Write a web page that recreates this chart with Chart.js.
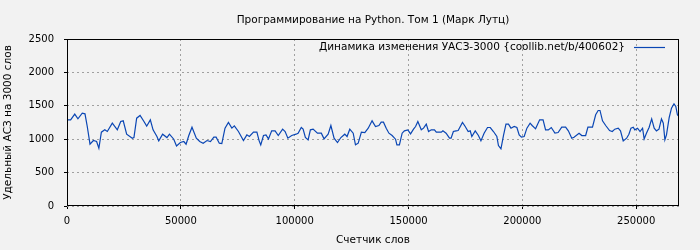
<!DOCTYPE html>
<html>
<head>
<meta charset="utf-8">
<script src="https://cdn.jsdelivr.net/npm/chart.js@4"></script>
<style>
    html, body { margin: 0; padding: 0; background: #f2f2f2; }
    #wrap { width: 700px; height: 250px; }
</style>
</head>
<body>
<div id="wrap"><canvas id="c"></canvas></div>
<script>
const chartTitle = 'Программирование на Python. Том 1 (Марк Лутц)';
const seriesLabel = 'Динамика изменения УАСЗ-3000 {coollib.net/b/400602}';
const xTitle = 'Счетчик слов';
const yTitle = 'Удельный АСЗ на 3000 слов';

const xTicks = [0, 50000, 100000, 150000, 200000, 250000];
const yTicks = [0, 500, 1000, 1500, 2000, 2500];

// счетчик слов
const wordCounts = [
    0, 1600, 3400, 4800, 6700, 7900, 8900, 10100, 11600, 13000,
    14000, 15100, 16600, 17700, 19900, 22100, 23600, 24700, 26200, 28700,
    29400, 30600, 32100, 33800, 35000, 36600, 37800, 39500, 40300, 42000,
    43900, 45000, 46900, 48100, 49800, 51300, 52300, 53500, 54900, 56800,
    58300, 59800, 61500, 63000, 64500, 65500, 66900, 68000, 69400, 70900,
    72400, 73500, 75300, 77500, 79000, 80100, 81900, 83400, 84400, 85100,
    86300, 87400, 88500, 89900, 91400, 92800, 94700, 95800, 97000, 98700,
    100600, 101500, 102900, 103700, 104700, 105900, 106900, 108100, 110000, 111700,
    112900, 114700, 115900, 117300, 118800, 120300, 122000, 123000, 124200, 125700,
    126700, 127900, 129300, 130800, 132300, 134000, 135500, 137000, 138000, 139000,
    140200, 141400, 142800, 144300, 144900, 146000, 147200, 148200, 149700, 150900,
    152200, 153100, 154100, 155600, 156600, 157800, 158800, 160000, 161400, 162200,
    164400, 165100, 166500, 168000, 168700, 169700, 170900, 171800, 173700, 174900,
    176200, 177100, 177800, 179300, 180700, 181800, 183200, 184700, 185900, 187300,
    188800, 189500, 190600, 191700, 192800, 193900, 195000, 196400, 197600, 198600,
    199600, 200800, 202000, 203400, 204300, 205800, 207600, 209100, 210200, 211400,
    212700, 214300, 215700, 217300, 219000, 220200, 221700, 222700, 224900, 226100,
    227800, 228800, 230800, 232200, 233300, 234100, 235200, 236600, 238300, 239500,
    240600, 242100, 243100, 244300, 245800, 246800, 247700, 248700, 249400, 250600,
    251700, 252800, 253500, 254500, 255700, 256800, 257900, 258900, 260000, 261100,
    261900, 262600, 263300, 264500, 265500, 266600, 267400, 268100, 268800
];

// УАСЗ-3000
const uasValues = [
    1290, 1290, 1375, 1305, 1390, 1380, 1190, 925, 980, 965,
    865, 1105, 1140, 1115, 1240, 1140, 1265, 1275, 1075, 1015,
    1025, 1315, 1355, 1265, 1195, 1290, 1140, 1040, 975, 1075,
    1025, 1075, 1000, 900, 950, 965, 925, 1055, 1180, 1015,
    965, 940, 980, 965, 1030, 1030, 940, 935, 1165, 1250,
    1165, 1200, 1115, 980, 1065, 1040, 1105, 1105, 975, 915,
    1055, 1065, 1005, 1125, 1125, 1055, 1150, 1115, 1015, 1055,
    1075, 1090, 1175, 1150, 1025, 990, 1140, 1150, 1090, 1090,
    1005, 1075, 1205, 1015, 950, 1025, 1075, 1040, 1150, 1090,
    915, 940, 1105, 1100, 1165, 1275, 1190, 1205, 1255, 1255,
    1165, 1090, 1055, 1000, 915, 915, 1090, 1125, 1140, 1080,
    1150, 1190, 1265, 1140, 1165, 1225, 1115, 1140, 1140, 1105,
    1105, 1125, 1090, 1015, 1015, 1115, 1125, 1130, 1250, 1190,
    1115, 1125, 1040, 1125, 1055, 975, 1090, 1175, 1175, 1115,
    1040, 905, 855, 1055, 1225, 1225, 1165, 1190, 1175, 1065,
    1030, 1040, 1165, 1240, 1205, 1155, 1290, 1290, 1140, 1140,
    1175, 1090, 1100, 1180, 1180, 1125, 1015, 1030, 1090, 1055,
    1055, 1180, 1180, 1365, 1430, 1430, 1275, 1205, 1130, 1115,
    1150, 1165, 1125, 975, 1015, 1075, 1165, 1180, 1140, 1165,
    1115, 1165, 1005, 1090, 1180, 1305, 1165, 1125, 1150, 1305,
    1240, 990, 1065, 1325, 1465, 1530, 1490, 1365, 1340
];

const FONT = 'DejaVu Sans';
const lineColor = '#0a46b4';
const gridColor = '#a0a0a0';

// рамка вокруг области графика и легенда в правом верхнем углу
const framePlugin = {
    id: 'frame',
    afterDatasetsDraw(chart) {
        const { ctx, chartArea: a } = chart;
        ctx.save();
        ctx.strokeStyle = '#000';
        ctx.lineWidth = 1;
        ctx.strokeRect(Math.round(a.left) + 0.5, Math.round(a.top) + 0.5,
            Math.round(a.right - a.left) - 1, Math.round(a.bottom - a.top) - 1);

        const ds = chart.data.datasets[0];
        const y = a.top + 8;
        const lineEnd = a.right - 14;
        const lineStart = lineEnd - 31;
        ctx.font = `10.5px ${FONT}`;
        ctx.fillStyle = '#000';
        ctx.textAlign = 'right';
        ctx.textBaseline = 'middle';
        ctx.fillText(ds.label, lineStart - 9, y);
        ctx.strokeStyle = ds.borderColor;
        ctx.lineWidth = 1.2;
        ctx.beginPath();
        ctx.moveTo(lineStart, y + 0.5);
        ctx.lineTo(lineEnd, y + 0.5);
        ctx.stroke();
        ctx.restore();
    }
};

new Chart(document.getElementById('c'), {
    type: 'line',
    data: {
        datasets: [{
            label: seriesLabel,
            data: wordCounts.map((w, i) => ({ x: w, y: uasValues[i] })),
            borderColor: lineColor,
            borderWidth: 1.2,
            pointRadius: 0,
            tension: 0,
            fill: false
        }]
    },
    options: {
        responsive: true,
        maintainAspectRatio: false,
        animation: false,
        layout: { padding: { left: 0, right: 21, top: 0, bottom: 0 } },
        scales: {
            x: {
                type: 'linear',
                min: 0,
                max: 268800,
                afterBuildTicks: (scale) => { scale.ticks = xTicks.map(v => ({ value: v })); },
                afterFit: (scale) => { scale.height = 44; },
                ticks: {
                    autoSkip: false,
                    maxRotation: 0,
                    padding: 6,
                    color: '#000',
                    font: { family: FONT, size: 10 },
                    callback: (v) => String(v)
                },
                grid: {
                    color: gridColor,
                    tickColor: '#000',
                    tickLength: 3,
                    tickBorderDash: []
                },
                border: { display: false, dash: [2, 3] },
                title: {
                    display: true,
                    text: xTitle,
                    color: '#000',
                    font: { family: FONT, size: 10.5 },
                    padding: { top: 0, bottom: 3 }
                }
            },
            y: {
                min: 0,
                max: 2500,
                afterBuildTicks: (scale) => { scale.ticks = yTicks.map(v => ({ value: v })); },
                afterFit: (scale) => { scale.width = 67; },
                ticks: {
                    padding: 10,
                    color: '#000',
                    font: { family: FONT, size: 10 },
                    callback: (v) => String(v)
                },
                grid: {
                    color: gridColor,
                    tickColor: '#000',
                    tickLength: 3,
                    tickBorderDash: []
                },
                border: { display: false, dash: [2, 3] },
                title: {
                    display: true,
                    text: yTitle,
                    color: '#000',
                    font: { family: FONT, size: 10.5 },
                    padding: { top: 2, bottom: 0 }
                }
            }
        },
        plugins: {
            legend: { display: false },
            tooltip: { enabled: false },
            title: {
                display: true,
                fullSize: false,
                text: chartTitle,
                color: '#000',
                font: { family: FONT, size: 10.5, weight: 'normal' },
                padding: { top: 14, bottom: 12.4 }
            }
        }
    },
    plugins: [framePlugin]
});
</script>
</body>
</html>
